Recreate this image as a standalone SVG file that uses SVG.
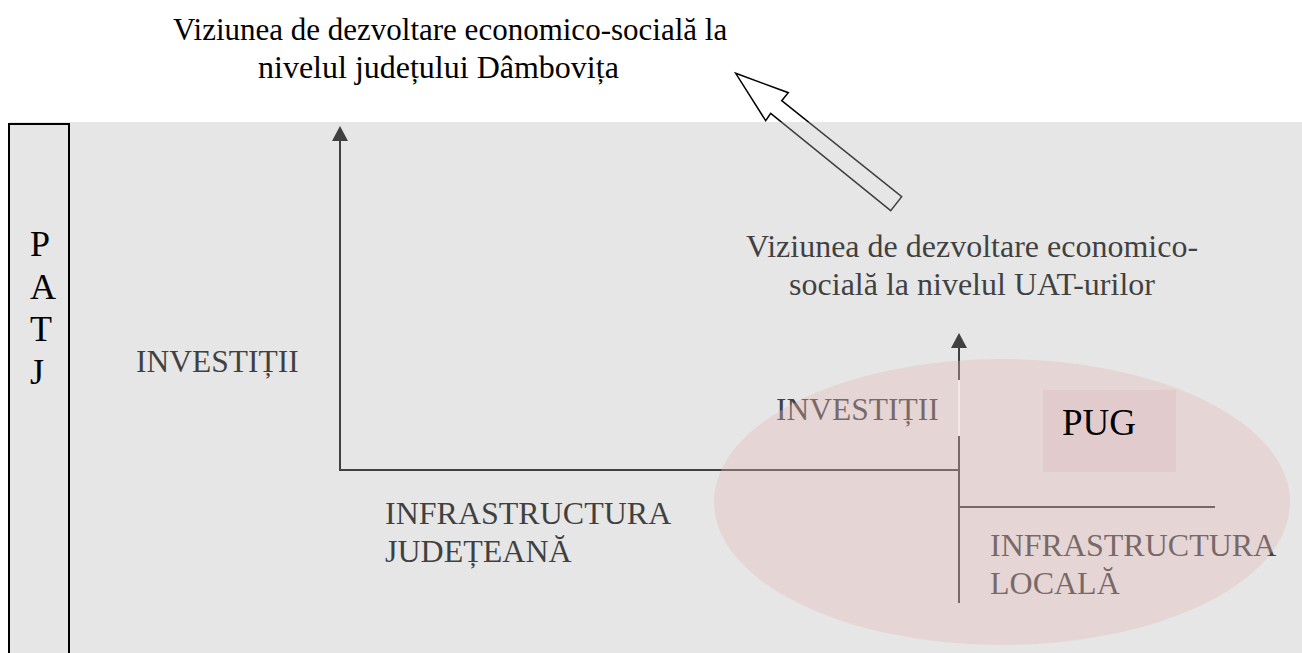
<svg xmlns="http://www.w3.org/2000/svg" width="1302" height="653" viewBox="0 0 1302 653">
  <style>
    .t { font-family: "Liberation Serif", "Times New Roman", serif; font-size: 32px; fill: #000; }
    .big { font-size: 36px; }
    .ln { stroke: #000; stroke-width: 2; fill: none; }
  </style>
  <defs>
    <marker id="ah" markerUnits="userSpaceOnUse" markerWidth="16" markerHeight="16" viewBox="0 0 16 16" refX="0" refY="8" orient="auto">
      <path d="M0,0 L15,8 L0,16 Z" fill="#000"/>
    </marker>
  </defs>
  <rect x="0" y="0" width="1302" height="653" fill="#fff"/>

  <g id="connectors">
    <polygon points="735.7,73.3 788.3,92.7 781.7,100.7 901.7,196.7 890.7,210.7 770.7,113.3 765.7,120.7" fill="#fff" stroke="#000" stroke-width="1.5" stroke-linejoin="miter"/>
    <path class="ln" d="M959,470 L340,470 L340,141" marker-end="url(#ah)"/>
    <path class="ln" d="M959,603 L959,436 M959,380 L959,348" marker-end="url(#ah)"/>
    <path class="ln" d="M960,507 L1215,507"/>
  </g>

  <g id="viziune-uat">
    <text class="t" x="972" y="257" text-anchor="middle">Viziunea de dezvoltare economico-</text>
    <text class="t" x="972" y="295" text-anchor="middle">socială la nivelul UAT-urilor</text>
  </g>
  <g id="investitii-judet">
    <text class="t" x="136" y="372" style="font-size:31.5px">INVESTIȚII</text>
  </g>
  <g id="infrastructura-judeteana">
    <text class="t" x="385" y="524">INFRASTRUCTURA</text>
    <text class="t" x="385" y="562">JUDEȚEANĂ</text>
  </g>
  <g id="investitii-local">
    <text class="t" x="776" y="420" style="font-size:31.5px">INVESTIȚII</text>
  </g>
  <g id="infrastructura-locala">
    <text class="t" x="990" y="556">INFRASTRUCTURA</text>
    <text class="t" x="990" y="594">LOCALĂ</text>
  </g>

  <g id="panel">
    <rect x="10" y="122" width="1292" height="531" fill="#b7b7b7" fill-opacity="0.35"/>
  </g>

  <g id="zona-uat">
    <ellipse cx="1002" cy="502" rx="288" ry="143" fill="#e3b5b5" fill-opacity="0.35"/>
    <line x1="959" y1="380" x2="959" y2="436" stroke="#fbf4f4" stroke-width="1.2"/>
  </g>

  <g id="patj">
    <rect x="9" y="124" width="60" height="545" fill="none" stroke="#000" stroke-width="2"/>
    <text class="t big" x="30" y="256">P</text>
    <text class="t big" x="30" y="299">A</text>
    <text class="t big" x="30" y="341">T</text>
    <text class="t big" x="30" y="384">J</text>
  </g>

  <g id="pug">
    <rect x="1043" y="390" width="133" height="82" fill="#e2cbcc"/>
    <text class="t" x="1062" y="435" style="font-size:37px">PUG</text>
  </g>

  <g id="viziune-judet">
    <text class="t" x="173" y="40" style="font-size:31px">Viziunea de dezvoltare economico-socială la</text>
    <text class="t" x="258" y="78">nivelul județului Dâmbovița</text>
  </g>
</svg>
